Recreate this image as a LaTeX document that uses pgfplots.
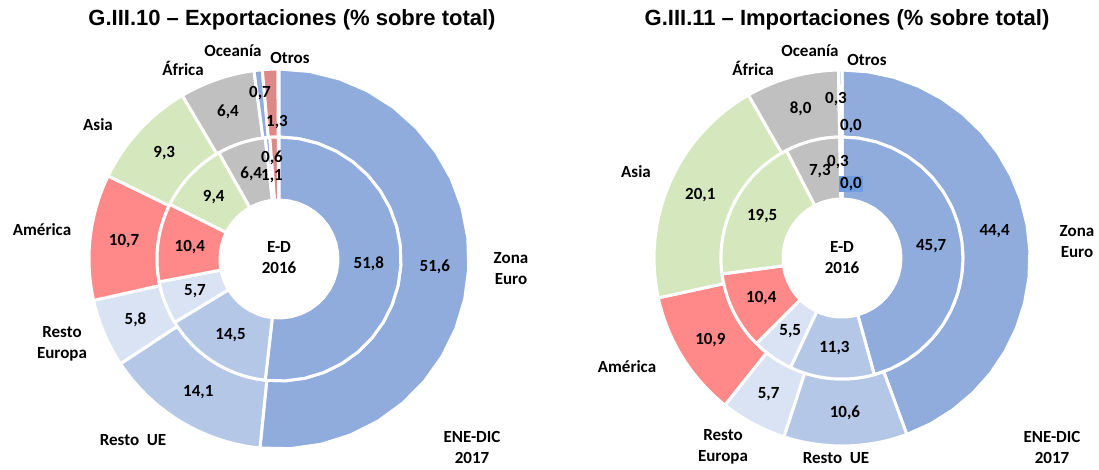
\documentclass[border=0pt]{standalone}
\usepackage{pgfplots}
\pgfplotsset{compat=1.18}
\usepackage{pgfplotstable}
\usepackage{fontspec}
\setmainfont{Carlito}
\newfontfamily\titlefont{Liberation Sans}
\definecolor{czona}{RGB}{143,172,220}
\definecolor{cue}{RGB}{180,199,231}
\definecolor{ceur}{RGB}{218,227,243}
\definecolor{camer}{RGB}{255,137,137}
\definecolor{casia}{RGB}{213,231,189}
\definecolor{cafr}{RGB}{192,192,192}
\definecolor{cocea}{RGB}{143,172,220}
\definecolor{cotros}{RGB}{222,136,136}
\definecolor{chl}{RGB}{110,158,225}
\newcommand\lbl{\fontsize{17}{21}\selectfont\bfseries}
\newcommand\ttl{\titlefont\fontsize{22}{26}\selectfont\bfseries}

% region, exports 2016 / 2017, imports 2016 / 2017 (% of total)
\pgfplotstableread{
region      x16  x17  m16  m17  col
ZonaEuro    51.8 51.6 45.7 44.4 czona
RestoUE     14.5 14.1 11.3 10.6 cue
RestoEuropa 5.7  5.8  5.5  5.7  ceur
America     10.4 10.7 10.4 10.9 camer
Asia        9.4  9.3  19.5 20.1 casia
Africa      6.4  6.4  7.3  8.0  cafr
Oceania     0.6  0.7  0.3  0.3  cocea
Otros       1.1  1.3  0.0  0.0  cotros
}\datatable

% #1 column, #2 cx, #3 cy, #4 inner radius, #5 outer radius, #6 label radius
\newcommand\ring[6]{%
  \gdef\cum{0}%
  \pgfplotsforeachungrouped \i in {0,...,7}{%
    \pgfplotstablegetelem{\i}{#1}\of\datatable \edef\val{\pgfplotsretval}%
    \pgfplotstablegetelem{\i}{col}\of\datatable \edef\col{\pgfplotsretval}%
    \pgfmathsetmacro\aone{90-3.6*\cum}%
    \pgfmathsetmacro\atwo{90-3.6*(\cum+\val)}%
    \pgfmathsetmacro\amid{((\aone)+(\atwo))/2}%
    \pgfmathsetmacro\newcum{\cum+\val}\xdef\cum{\newcum}%
    \ifdim\val pt>0pt
    \edef\doplot{\noexpand\addplot[fill=\col, draw=white, line width=3pt, line join=round,
        samples at={0,...,41}, variable=\noexpand\t]
      ({#2+ifthenelse(\noexpand\t<20.5,#5*cos((\aone)+((\atwo)-(\aone))*\noexpand\t/20),#4*cos((\atwo)-((\atwo)-(\aone))*(\noexpand\t-21)/20))},
       {#3-ifthenelse(\noexpand\t<20.5,#5*sin((\aone)+((\atwo)-(\aone))*\noexpand\t/20),#4*sin((\atwo)-((\atwo)-(\aone))*(\noexpand\t-21)/20))}) -- cycle;}%
    \doplot
    \fi
    \ifdim\val pt>2pt
      \pgfmathsetmacro\lx{#2+#6*cos(\amid)}%
      \pgfmathsetmacro\ly{#3-#6*sin(\amid)}%
      \edef\dolabel{\noexpand\node[font=\noexpand\lbl] at (axis cs:\lx,\ly)
        {\noexpand\pgfmathprintnumber[fixed,fixed zerofill,precision=1,use comma,assume math mode=true]{\val}};}%
      \dolabel
    \fi
  }%
}

\begin{document}
\begin{tikzpicture}
\begin{axis}[width=1099pt, height=470pt, scale only axis,
  xmin=0, xmax=1099, ymin=0, ymax=470, y dir=reverse,
  hide axis, clip=false]

% ---- Exportaciones ----
\ring{x17}{279}{259}{122}{190}{156}
\ring{x16}{279}{259}{59}{122}{90}
% ---- Importaciones ----
\ring{m17}{842}{258}{121}{188}{155}
\ring{m16}{842}{258}{59}{121}{90}

% small values
\node[font=\lbl] at (axis cs:260,93) {0,7};
\node[font=\lbl] at (axis cs:277,122) {1,3};
\node[font=\lbl] at (axis cs:272,158) {0,6};
\node[font=\lbl] at (axis cs:272,176) {1,1};
\node[font=\lbl] at (axis cs:836,99) {0,3};
\node[font=\lbl] at (axis cs:851,126) {0,0};
\node[font=\lbl] at (axis cs:838,162) {0,3};
\node[font=\lbl, fill=chl, inner sep=1pt] at (axis cs:851,184) {0,0};

% titles
\node[font=\ttl] at (axis cs:292,20) {G.III.10 – Exportaciones (\% sobre total)};
\node[font=\ttl] at (axis cs:847,20) {G.III.11 – Importaciones (\% sobre total)};

% category labels, exports
\node[font=\lbl] at (axis cs:290,58) {Otros};
\node[font=\lbl] at (axis cs:233,51) {Oceanía};
\node[font=\lbl] at (axis cs:183,68) {África};
\node[font=\lbl] at (axis cs:98,125) {Asia};
\node[font=\lbl] at (axis cs:42,230) {América};
\node[font=\lbl, align=center] at (axis cs:62,344) {Resto\\Europa};
\node[font=\lbl] at (axis cs:133,440) {Resto~~UE};
\node[font=\lbl, align=center] at (axis cs:472,447) {ENE-DIC\\2017};
\node[font=\lbl, align=center] at (axis cs:511,269) {Zona\\Euro};
\node[font=\lbl, align=center] at (axis cs:279,258) {E-D\\2016};

% category labels, imports
\node[font=\lbl] at (axis cs:810,51) {Oceanía};
\node[font=\lbl] at (axis cs:867,60) {Otros};
\node[font=\lbl] at (axis cs:753,68) {África};
\node[font=\lbl] at (axis cs:636,172) {Asia};
\node[font=\lbl] at (axis cs:627,367) {América};
\node[font=\lbl, align=center] at (axis cs:723,447) {Resto\\Europa};
\node[font=\lbl] at (axis cs:836,458) {Resto~~UE};
\node[font=\lbl, align=center] at (axis cs:1052,447) {ENE-DIC\\2017};
\node[font=\lbl, align=center] at (axis cs:1077,242) {Zona\\Euro};
\node[font=\lbl, align=center] at (axis cs:842,258) {E-D\\2016};
\end{axis}
\pgfresetboundingbox
\path[use as bounding box] (current axis.south west) rectangle (current axis.north east);
\end{tikzpicture}
\end{document}
